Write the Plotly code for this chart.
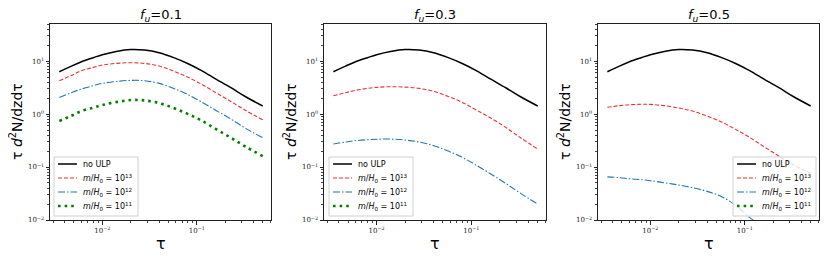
import plotly.graph_objects as go

# ---- data ----
tau = [0.0035, 0.0047, 0.006, 0.008, 0.01, 0.014, 0.02, 0.028, 0.04, 0.057, 0.08, 0.11, 0.16, 0.23, 0.33, 0.5]

no_ulp = [6.3, 8.05, 9.7, 11.6, 13.2, 15.2, 16.5, 16.1, 14.3, 11.6, 9.0, 6.76, 4.57, 3.14, 2.12, 1.42]

f01_m13 = [4.26, 5.37, 6.58, 7.61, 8.41, 9.04, 9.31, 9.04, 8.05, 6.47, 4.99, 3.73, 2.53, 1.73, 1.17, 0.78]
f01_m12 = [2.06, 2.53, 2.97, 3.43, 3.79, 4.13, 4.32, 4.26, 3.79, 3.05, 2.35, 1.73, 1.17, 0.805, 0.537, 0.357]
f01_m11 = [0.738, 0.931, 1.14, 1.32, 1.48, 1.68, 1.84, 1.81, 1.61, 1.30, 1.01, 0.77, 0.521, 0.357, 0.242, 0.161]

f03_m13 = [2.22, 2.53, 2.80, 3.05, 3.19, 3.28, 3.23, 3.05, 2.68, 2.15, 1.66, 1.22, 0.84, 0.56, 0.357, 0.219]
f03_m12 = [0.272, 0.297, 0.314, 0.328, 0.335, 0.337, 0.323, 0.297, 0.253, 0.20, 0.152, 0.111, 0.0738, 0.0492, 0.0318, 0.020]
f03_m11 = [0.0030, 0.0033, 0.0035, 0.0036, 0.0037, 0.0037, 0.0036, 0.0034, 0.0030, 0.0025, 0.0019, 0.0014, 0.0010, 0.0007, 0.00045, 0.0003]

f05_m13 = [1.34, 1.44, 1.50, 1.53, 1.52, 1.44, 1.30, 1.14, 0.916, 0.706, 0.514, 0.373, 0.242, 0.161, 0.109, 0.076]
f05_m12 = [0.0652, 0.063, 0.060, 0.0577, 0.0552, 0.0506, 0.0457, 0.0407, 0.0347, 0.0275, 0.0189, 0.0116, 0.0070, 0.0045, 0.0029, 0.0018]
f05_m11 = [0.0012, 0.00115, 0.0011, 0.00105, 0.0010, 0.0009, 0.0008, 0.0007, 0.0006, 0.0005, 0.0003, 0.0002, 0.00012, 0.00008, 0.00005, 0.00003]

panel_titles = ["<i>f</i><sub><i>u</i></sub>=0.1", "<i>f</i><sub><i>u</i></sub>=0.3", "<i>f</i><sub><i>u</i></sub>=0.5"]
series_names = ["no ULP",
                "<i>m</i>/<i>H</i><sub>0</sub> = 10<sup>13</sup>",
                "<i>m</i>/<i>H</i><sub>0</sub> = 10<sup>12</sup>",
                "<i>m</i>/<i>H</i><sub>0</sub> = 10<sup>11</sup>"]
x_title = "τ"
y_title = "τ <i>d</i><sup>2</sup>N/dzdτ"

x_tickvals = [0.01, 0.1]
x_ticktext = ["10<sup>−2</sup>", "10<sup>−1</sup>"]
y_tickvals = [0.01, 0.1, 1, 10]
y_ticktext = ["10<sup>−2</sup>", "10<sup>−1</sup>", "10<sup>0</sup>", "10<sup>1</sup>"]

panels = [
    [no_ulp, f01_m13, f01_m12, f01_m11],
    [no_ulp, f03_m13, f03_m12, f03_m11],
    [no_ulp, f05_m13, f05_m12, f05_m11],
]

styles = [
    dict(color="black", width=1.5, dash="solid"),
    dict(color="#ee3030", width=1.1, dash="4px,2px"),
    dict(color="#1f77b4", width=1.1, dash="7px,2px,1.5px,2px"),
    dict(color="#008000", width=2.6, dash="2.6px,4px"),
]

# ---- layout geometry ----
# All positions below are in page pixels; the HTML body has an 8px default margin,
# so the figure itself is drawn 8px smaller and offset accordingly.
OFF = 8
PAGE_W, PAGE_H = 830, 260
W, H = PAGE_W - OFF, PAGE_H - OFF
plot_top, plot_bot = 24, 220            # page px
px_domains = [(50, 271), (324, 546), (598, 819)]  # page px
ml = px_domains[0][0] - OFF
mr = W - (px_domains[2][1] - OFF)
mt = plot_top - OFF
mb = H - (plot_bot - OFF)
pw = W - ml - mr
ph = H - mt - mb


def px2x(px):
    return (px - OFF - ml) / pw


def py2y(py):
    return (plot_bot - py) / ph


xdomains = [(px2x(a), px2x(b)) for a, b in px_domains]

fig = go.Figure()

for i, ys in enumerate(panels):
    xa = "x" if i == 0 else f"x{i+1}"
    ya = "y" if i == 0 else f"y{i+1}"
    for j, (vals, st, nm) in enumerate(zip(ys, styles, series_names)):
        fig.add_trace(go.Scatter(
            x=tau, y=vals, mode="lines", name=nm,
            line=dict(color=st["color"], width=st["width"], dash=st["dash"], shape="spline", smoothing=1.0),
            xaxis=xa, yaxis=ya, showlegend=False,
        ))

minor_x = [m * 10.0 ** e for e in (-3, -2, -1) for m in range(2, 10)]
minor_y = [m * 10.0 ** e for e in (-2, -1, 0, 1) for m in range(2, 10)]

axis_common = dict(
    type="log", showgrid=False, zeroline=False,
    showline=True, linecolor="#222", linewidth=1, mirror=True,
    ticks="outside", ticklen=3.5, tickwidth=0.8, tickcolor="#222",
    tickmode="array",
    tickfont=dict(family="DejaVu Serif", size=7, color="#222"),
)

for i in range(3):
    xk = "xaxis" if i == 0 else f"xaxis{i+1}"
    yk = "yaxis" if i == 0 else f"yaxis{i+1}"
    xa_anchor = "y" if i == 0 else f"y{i+1}"
    ya_anchor = "x" if i == 0 else f"x{i+1}"
    fig.layout[xk] = dict(axis_common, domain=[max(0, xdomains[i][0]), min(1, xdomains[i][1])], anchor=xa_anchor,
                          range=[-2.555, -0.213],
                          tickvals=x_tickvals, ticktext=x_ticktext,
                          minor=dict(tickmode="array", tickvals=minor_x, ticks="outside", ticklen=2,
                                     tickwidth=0.6, tickcolor="#444", showgrid=False))
    fig.layout[yk] = dict(axis_common, domain=[0, 1], anchor=ya_anchor,
                          range=[-2, 1.7],
                          tickvals=y_tickvals, ticktext=y_ticktext,
                          minor=dict(tickmode="array", tickvals=minor_y, ticks="outside", ticklen=2,
                                     tickwidth=0.6, tickcolor="#444", showgrid=False))
    left_px, right_px = px_domains[i]
    cx = (xdomains[i][0] + xdomains[i][1]) / 2
    # panel title
    fig.add_annotation(text=panel_titles[i], x=cx, y=py2y(15), xref="paper", yref="paper",
                       xanchor="center", yanchor="middle", showarrow=False,
                       font=dict(family="DejaVu Sans", size=13, color="black"))
    # x axis label
    fig.add_annotation(text=x_title, x=cx, y=py2y(243), xref="paper", yref="paper",
                       xanchor="center", yanchor="middle", showarrow=False,
                       font=dict(family="DejaVu Sans", size=16, color="black"))
    # y axis label
    fig.add_annotation(text=y_title, x=px2x(left_px - 34), y=0.5, xref="paper", yref="paper",
                       xanchor="center", yanchor="middle", showarrow=False, textangle=-90,
                       font=dict(family="DejaVu Sans", size=14, color="black"))

# ---- hand-drawn legends (matplotlib style) ----
legend_boxes = [(54, 138), (329, 413), (733, 816)]
box_top, box_bot = 157, 216
row_y = [164, 178, 192, 206]
for (bx0, bx1) in legend_boxes:
    fig.add_shape(type="rect", xref="paper", yref="paper",
                  x0=px2x(bx0), x1=px2x(bx1), y0=py2y(box_bot), y1=py2y(box_top),
                  line=dict(color="#d0d0d0", width=1), fillcolor="rgba(255,255,255,0.8)", layer="above")
    for st, nm, ry in zip(styles, series_names, row_y):
        fig.add_shape(type="line", xref="paper", yref="paper",
                      x0=px2x(bx0 + 4), x1=px2x(bx0 + 23), y0=py2y(ry), y1=py2y(ry),
                      line=dict(color=st["color"], width=st["width"], dash=st["dash"]), layer="above")
        fig.add_annotation(text=nm, x=px2x(bx0 + 27), y=py2y(ry), xref="paper", yref="paper",
                           xanchor="left", yanchor="middle", showarrow=False,
                           font=dict(family="DejaVu Sans", size=8, color="black"))

fig.update_layout(
    width=W, height=H,
    margin=dict(l=ml, r=mr, t=mt, b=mb),
    paper_bgcolor="white", plot_bgcolor="white",
    showlegend=False,
)

fig.write_html("out.html")
